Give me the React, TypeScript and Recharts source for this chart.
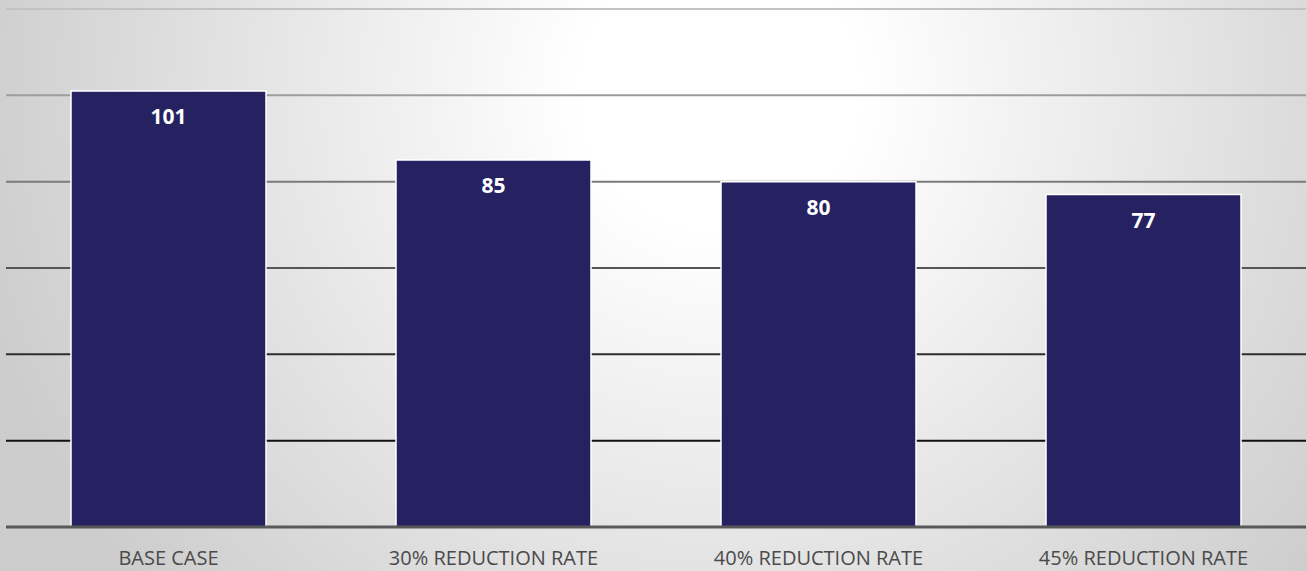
import React from "react";
import { Bar, BarChart, CartesianGrid, LabelList, XAxis, YAxis } from "recharts";

const categories = [
  "BASE CASE",
  "30% REDUCTION RATE",
  "40% REDUCTION RATE",
  "45% REDUCTION RATE",
];
const values = [101, 85, 80, 77];
const yTicks = [0, 20, 40, 60, 80, 100, 120];

const data = categories.map((name, i) => ({ name, value: values[i] }));

const W = 1307;
const H = 571;
const font = "'Open Sans', 'Noto Sans', sans-serif";

export default function App() {
  return (
    <div
      style={{
        position: "absolute",
        left: 0,
        top: 0,
        width: W,
        height: H,
        background:
          "radial-gradient(circle at 720px 90px, #ffffff 0px, #ffffff 140px, #e8e8e8 420px, #cdcdcd 760px)",
      }}
    >
      <style>{"body{margin:0}"}</style>
      <BarChart
        width={W}
        height={H}
        data={data}
        margin={{ top: 9, right: 1, left: 6, bottom: 0 }}
        barCategoryGap="20%"
      >
        <defs>
          <linearGradient
            id="gridGrad"
            gradientUnits="userSpaceOnUse"
            x1="0"
            y1="0"
            x2="0"
            y2={H}
          >
            <stop offset="0%" stopColor="#c6c6c6" />
            <stop offset="17%" stopColor="#9c9c9c" />
            <stop offset="32%" stopColor="#7a7a7a" />
            <stop offset="47%" stopColor="#555555" />
            <stop offset="62%" stopColor="#2e2e2e" />
            <stop offset="77%" stopColor="#111111" />
            <stop offset="100%" stopColor="#000000" />
          </linearGradient>
        </defs>
        <CartesianGrid
          vertical={false}
          stroke="url(#gridGrad)"
          strokeWidth={2}
          strokeOpacity={1}
        />
        <YAxis hide domain={[0, 120]} ticks={yTicks} />
        <XAxis
          dataKey="name"
          height={44}
          axisLine={{ stroke: "#595959", strokeWidth: 3 }}
          tickLine={false}
          tick={{ fill: "#4a4a4a", fontSize: 20, fontFamily: font }}
          tickMargin={18}
          interval={0}
        />
        <Bar
          dataKey="value"
          fill="#262262"
          stroke="#ffffff"
          strokeWidth={1.5}
          isAnimationActive={false}
        >
          <LabelList
            dataKey="value"
            position="insideTop"
            offset={18}
            fill="#ffffff"
            style={{ fontFamily: font, fontSize: 21, fontWeight: 700 }}
          />
        </Bar>
      </BarChart>
    </div>
  );
}
